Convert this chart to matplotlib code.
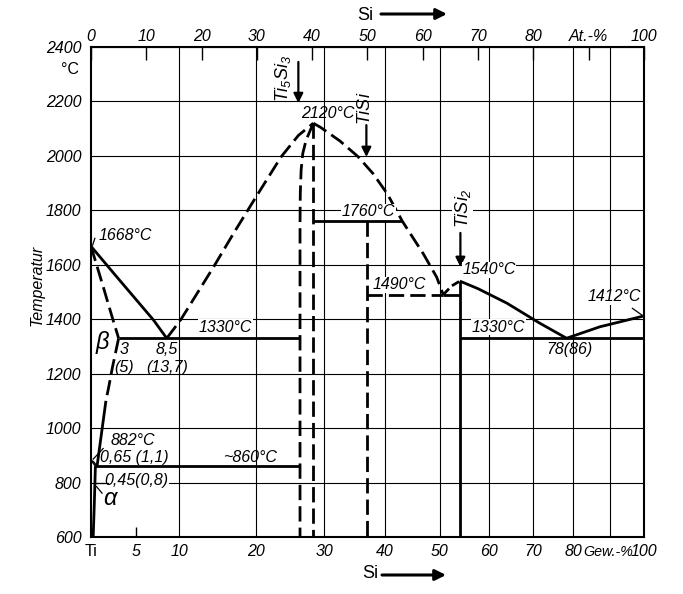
import numpy as np
import matplotlib
matplotlib.use('Agg')
import matplotlib.pyplot as plt
from matplotlib import font_manager

_names = {f.name for f in font_manager.fontManager.ttflist}
MAIN = 'Liberation Sans Narrow' if 'Liberation Sans Narrow' in _names else 'Liberation Sans'
FONT = [MAIN, 'DejaVu Sans']
plt.rcParams['font.family'] = FONT
plt.rcParams['font.style'] = 'italic'
plt.rcParams['mathtext.fontset'] = 'custom'
plt.rcParams['mathtext.it'] = MAIN + ':italic'
plt.rcParams['mathtext.rm'] = MAIN + ':italic'

# ---------------- axis data ----------------
M_TI, M_SI = 47.867, 28.086
at_ticks = [0, 10, 20, 30, 40, 50, 60, 70, 80, 90, 100]
at_labels = ['0', '10', '20', '30', '40', '50', '60', '70', '80', 'At.-%', '100']
wt_grid = [10, 20, 30, 40, 50, 60, 70, 80, 90]
wt_ticks = [0, 10, 20, 30, 40, 50, 60, 70, 80, 100]
wt_labels = ['Ti', '10', '20', '30', '40', '50', '60', '70', '80', '100']
wt_unit = 'Gew.-%'
wt_minor = [5]
t_ticks = [600, 800, 1000, 1200, 1400, 1600, 1800, 2000, 2200, 2400]


def wt_to_at(w):
    w = np.asarray(w, float)
    n_si = w / M_SI
    n_ti = (100.0 - w) / M_TI
    return 100.0 * n_si / (n_si + n_ti)

# ---------------- phase boundaries (at.-% Si, deg C) ----------------
liq_ti_x = [0, 4.1, 7.7, 11.3, 13.7]
liq_ti_t = [1668, 1569, 1483, 1397, 1330]
beta_sol_x = [0, 2.2, 3.8, 5.0]
beta_sol_t = [1668, 1520, 1410, 1330]
beta_solv_d_x = [5.0, 3.9, 3.2, 2.7]
beta_solv_d_t = [1330, 1225, 1150, 1100]
beta_solv_s_x = [2.7, 1.9, 1.1]
beta_solv_s_t = [1100, 980, 860]
alpha_solv_x = [0.8, 0.6, 0.4]
alpha_solv_t = [860, 720, 600]
ab_up_x = [0, 0.8]
ab_up_t = [882, 860]
ab_lo_x = [0, 0.5, 1.1]
ab_lo_t = [882, 876, 860]
eut1330_l_x = [5.0, 37.8]
eut1330_l_t = [1330, 1330]
eutd860_x = [0.8, 37.8]
eutd860_t = [860, 860]
liq_mid_x = [13.7, 16.2, 22.2, 25.8, 29.5, 34.4, 37.5, 40.2]
liq_mid_t = [1330, 1397, 1593, 1716, 1838, 1997, 2075, 2120]
t53_l_x = [40.2, 38.9, 38.3, 38.0, 37.85, 37.8, 37.8]
t53_l_t = [2120, 2058, 2009, 1948, 1862, 1750, 600]
t53_r_x = [40.2, 40.2]
t53_r_t = [2120, 600]
liq_r_x = [40.2, 41.5, 45, 48.3, 51, 53.6, 56.3, 60.1, 62.5, 63.7]
liq_r_t = [2120, 2105, 2055, 1997, 1935, 1860, 1760, 1640, 1555, 1490]
per1760_x = [40.2, 56.3]
per1760_t = [1760, 1760]
tisi_x = [50, 50]
tisi_t = [1760, 600]
eut1490_d_x = [50, 63.7]
eut1490_d_t = [1490, 1490]
eut1490_s_x = [63.7, 66.7]
eut1490_s_t = [1490, 1490]
liq_t2l_x = [63.7, 65.2, 66.7]
liq_t2l_t = [1490, 1522, 1540]
tisi2_x = [66.7, 66.7]
tisi2_t = [1540, 600]
liq_t2r_x = [66.7, 70, 75.2, 81.1, 86]
liq_t2r_t = [1540, 1512, 1459, 1386, 1330]
liq_si_x = [86, 92, 100]
liq_si_t = [1330, 1372, 1412]
eut1330_r_x = [66.7, 100]
eut1330_r_t = [1330, 1330]

# ---------------- figure ----------------
fig = plt.figure(figsize=(6.83, 5.94), dpi=100)
ax = fig.add_axes([0.1332, 0.096, 0.8097, 0.8249])
ax.set_xlim(0, 100)
ax.set_ylim(600, 2400)

for s in ax.spines.values():
    s.set_linewidth(1.5)

# grid
for w in wt_grid:
    ax.axvline(float(wt_to_at(w)), color='black', lw=0.8, zorder=1)
for t in t_ticks[1:-1]:
    ax.axhline(t, color='black', lw=0.8, zorder=1)

LW = 2.0
DASH = (0, (5.5, 2.2))
K = dict(color='black', lw=LW, zorder=3, solid_capstyle='butt')
D = dict(color='black', lw=LW, zorder=3, ls=DASH, dash_capstyle='butt')

ax.plot(liq_ti_x, liq_ti_t, **K)
ax.plot(beta_sol_x, beta_sol_t, **D)
ax.plot(beta_solv_d_x, beta_solv_d_t, **D)
ax.plot(beta_solv_s_x, beta_solv_s_t, **K)
ax.plot(alpha_solv_x, alpha_solv_t, **K)
ax.plot(ab_up_x, ab_up_t, color='black', lw=1.0, zorder=3)
ax.plot(ab_lo_x, ab_lo_t, color='black', lw=1.0, zorder=3)
ax.plot(eut1330_l_x, eut1330_l_t, **K)
ax.plot(eutd860_x, eutd860_t, **K)
ax.plot(liq_mid_x, liq_mid_t, **D)
ax.plot(t53_l_x, t53_l_t, **D)
ax.plot(t53_r_x, t53_r_t, **D)
ax.plot(liq_r_x, liq_r_t, **D)
ax.plot(per1760_x, per1760_t, **K)
ax.plot(tisi_x, tisi_t, **D)
ax.plot(eut1490_d_x, eut1490_d_t, **D)
ax.plot(eut1490_s_x, eut1490_s_t, **K)
ax.plot(liq_t2l_x, liq_t2l_t, color='black', lw=LW, ls=(0, (3, 1.5)), zorder=3)
ax.plot(tisi2_x, tisi2_t, **K)
ax.plot(liq_t2r_x, liq_t2r_t, **K)
ax.plot(liq_si_x, liq_si_t, **K)
ax.plot(eut1330_r_x, eut1330_r_t, **K)

# ---------------- ticks ----------------
FS = 11.5
ax.set_yticks(t_ticks)
ax.set_yticklabels([str(t) for t in t_ticks])
ax.tick_params(axis='y', length=0, pad=7, labelsize=FS)

ax.set_xticks(wt_to_at(wt_ticks))
ax.set_xticklabels(wt_labels)
ax.set_xticks(wt_to_at(wt_minor), minor=True)
ax.set_xticklabels([str(w) for w in wt_minor], minor=True)
ax.tick_params(axis='x', which='major', length=0, pad=5, labelsize=FS)
ax.tick_params(axis='x', which='minor', length=7, width=1.0, direction='in',
               pad=5, labelsize=FS)
for lab_ in ax.get_xticklabels():
    if lab_.get_text() == 'Ti':
        lab_.set_style('normal')
# unit label between the 80 and 100 labels
ax.annotate(wt_unit, xy=(93.6, 0), xycoords=('data', 'axes fraction'),
            xytext=(0, -5.6), textcoords='offset points', ha='center',
            va='top', fontsize=FS - 1.2, annotation_clip=False)

top = ax.secondary_xaxis('top')
top.set_xticks(at_ticks)
top.set_xticklabels(at_labels)
top.tick_params(length=9, width=1.0, direction='in', pad=2, labelsize=FS)

# ---------------- annotations ----------------
bb = dict(facecolor='white', edgecolor='none', pad=0.5)


def lab(x, t, s, fs=FS, **kw):
    ax.text(x, t, s, fontsize=fs, ha='center', va='center', zorder=4, **kw)

lab(42.8, 2157, '2120\u00b0C')
lab(50.2, 1794, '1760\u00b0C', bbox=bb)
lab(24.3, 1371, '1330\u00b0C', bbox=bb)
lab(55.8, 1526, '1490\u00b0C', bbox=bb)
lab(72.0, 1581, '1540\u00b0C', bbox=bb)
lab(94.6, 1482, '1412\u00b0C', bbox=bb)
lab(73.7, 1371, '1330\u00b0C', bbox=bb)
lab(86.5, 1287, '78(86)')
lab(6.2, 1709, '1668\u00b0C')
lab(2.1, 1316, '\u03b2', fs=17)
lab(6.0, 1287, '3')
lab(5.9, 1224, '(5)')
lab(13.7, 1287, '8,5')
lab(13.7, 1224, '(13,7)')
lab(7.5, 956, '882\u00b0C')
lab(7.8, 893, '0,65 (1,1)')
lab(28.7, 893, '~860\u00b0C')
lab(8.2, 809, '0,45(0,8)', bbox=bb)
lab(3.5, 743, '\u03b1', fs=17)

# leaders
ax.plot([97.9, 99.7], [1440, 1414], color='black', lw=0.9, zorder=4)
ax.plot([0.9, 3.0], [800, 800], color='black', lw=0.9, zorder=4)
ax.plot([2.0, 1.0], [761, 785], color='black', lw=0.9, zorder=4)
ax.plot([0.4, 2.2], [886, 925], color='black', lw=0.9, zorder=4)
ax.plot([0.3, 0.7], [1672, 1697], color='black', lw=0.9, zorder=4)

# compound markers
AP = dict(arrowstyle='-|>', color='black', lw=1.6, mutation_scale=14,
          shrinkA=0, shrinkB=0)
ax.text(34.8, 2286, r'$Ti_5Si_3$', fontsize=FS + 1.5, rotation=90,
        ha='center', va='center')
ax.annotate('', xy=(37.5, 2194), xytext=(37.5, 2345), arrowprops=AP)
ax.text(49.6, 2175, r'$TiSi$', fontsize=FS + 1.5, rotation=90,
        ha='center', va='center')
ax.annotate('', xy=(49.8, 1996), xytext=(49.8, 2113), arrowprops=AP)
ax.text(67.2, 1808, r'$TiSi_2$', fontsize=FS + 1.5, rotation=90,
        ha='center', va='center', bbox=bb)
ax.annotate('', xy=(66.8, 1592), xytext=(66.8, 1717), arrowprops=AP)

# figure-level texts
W, H = 683.0, 594.0
fig.text(70 / W, 1 - 70 / H, '\u00b0C', fontsize=FS, ha='center', va='center',
         style='normal')
fig.text(37 / W, 1 - 285 / H, 'Temperatur', fontsize=FS, rotation=90,
         ha='center', va='center')
fig.text(365 / W, 1 - 16 / H, 'Si', fontsize=FS + 1.5, ha='center', va='center',
         style='normal')
fig.text(370 / W, 1 - 574 / H, 'Si', fontsize=FS + 1.5, ha='center', va='center',
         style='normal')
AF = dict(arrowstyle='-|>', color='black', lw=2.2, mutation_scale=16,
          shrinkA=0, shrinkB=0)
fig.patches.append(matplotlib.patches.FancyArrowPatch(
    (381 / W, 1 - 14 / H), (447 / W, 1 - 14 / H), transform=fig.transFigure,
    **AF))
fig.patches.append(matplotlib.patches.FancyArrowPatch(
    (382 / W, 1 - 575 / H), (446 / W, 1 - 575 / H), transform=fig.transFigure,
    **AF))

fig.savefig('out.png', dpi=100)
